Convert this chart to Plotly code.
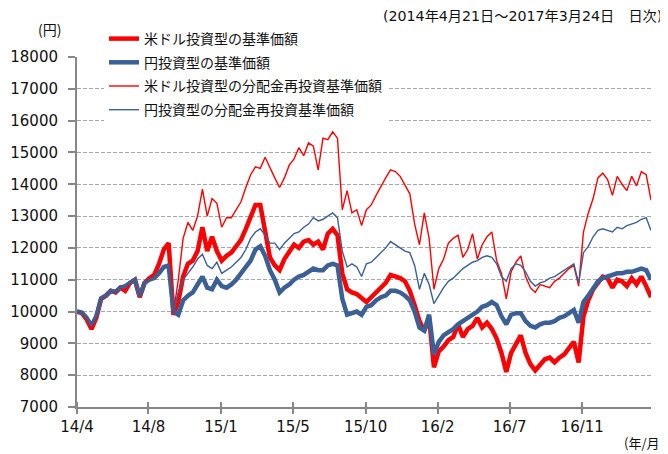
import pandas as pd
import plotly.graph_objects as go

# ---- data ----
start_date = "2014-04-21"
end_date = "2017-03-24"

usd_base = [10000, 9950, 9750, 9450, 9800, 10400, 10500, 10650, 10600, 10750,
            10650, 10900, 11000, 10450, 10900, 11050, 11150, 11500, 11950, 12150,
            9900, 10300, 11100, 11500, 11600, 11900, 12650, 11900, 12350, 11900,
            11600, 11750, 11850, 12050, 12250, 12600, 13000, 13350, 13350, 12500,
            11700, 11450, 11300, 11650, 11900, 12100, 12000, 12200, 12250, 12100,
            12200, 11950, 12450, 12600, 12400, 11200, 10700, 10600, 10550, 10400,
            10300, 10450, 10600, 10750, 10900, 11150, 11100, 11050, 10950, 10650,
            10200, 9700, 9400, 9800, 8250, 8750, 8900, 9100, 9200, 9600,
            9200, 9450, 9550, 9800, 9500, 9650, 9450, 9150, 8700, 8100,
            8700, 8950, 9250, 8700, 8350, 8150, 8350, 8500, 8550, 8400,
            8550, 8650, 8850, 9050, 8400, 9850, 10350, 10700, 10900, 11100,
            11050, 10750, 11000, 10950, 10800, 11050, 10850, 11100, 10800, 10450]

jpy_base = [10000, 9970, 9800, 9550, 9850, 10420, 10500, 10650, 10620, 10750,
            10800, 10900, 11000, 10480, 10900, 11000, 11050, 11200, 11400, 11450,
            10000, 9900, 10350, 10500, 10600, 10850, 11100, 10750, 10700, 11000,
            10800, 10750, 10850, 11000, 11200, 11400, 11600, 11950, 12050, 11750,
            11300, 11000, 10600, 10750, 10850, 11000, 11100, 11150, 11250, 11350,
            11300, 11300, 11450, 11500, 11450, 10400, 9900, 9950, 10000, 9900,
            10150, 10200, 10350, 10450, 10500, 10650, 10650, 10600, 10500, 10350,
            10000, 9500, 9400, 9900, 8650, 9050, 9250, 9350, 9450, 9600,
            9700, 9800, 9900, 10000, 10150, 10200, 10300, 10200, 9850, 9600,
            9900, 9950, 9950, 9700, 9550, 9500, 9600, 9650, 9650, 9700,
            9800, 9850, 9950, 10050, 9650, 10300, 10500, 10750, 10950, 11050,
            11100, 11150, 11200, 11200, 11250, 11250, 11300, 11350, 11300, 11000]

usd_reinv = [10000, 9950, 9750, 9450, 9800, 10400, 10500, 10650, 10600, 10750,
             10650, 10900, 11000, 10450, 10900, 11050, 11150, 11500, 11950, 12150,
             9950, 11000, 12300, 12800, 12550, 13000, 13850, 13000, 13550, 13400,
             12650, 12950, 12950, 13200, 13450, 13900, 14300, 14550, 14500, 14850,
             14500, 14200, 13900, 14200, 14600, 14800, 15150, 14900, 15300, 15200,
             14450, 15450, 15400, 15650, 15450, 13200, 13800, 13100, 13200, 12700,
             13200, 13350, 13650, 13950, 14200, 14450, 14400, 14250, 13950, 13700,
             12750, 12100, 13100, 12300, 10700, 11350, 11650, 12150, 12300, 12400,
             11700, 11950, 12450, 11650, 12100, 12350, 12500, 11600, 11200, 10400,
             11250, 11550, 11750, 11100, 10750, 10600, 10850, 10800, 10750, 10950,
             11050, 11200, 11350, 11450, 10800, 12500, 13100, 13550, 14200, 14350,
             14150, 13650, 14250, 14000, 13800, 14250, 13950, 14400, 14300, 13500]

jpy_reinv = [10000, 9970, 9800, 9550, 9850, 10420, 10500, 10650, 10620, 10750,
             10800, 10900, 11000, 10480, 10900, 11000, 11050, 11200, 11400, 11450,
             10000, 10600, 11000, 11200, 11400, 11650, 11800, 11450, 11350, 11550,
             11200, 11300, 11400, 11550, 11700, 11950, 12300, 12500, 12600, 12400,
             12150, 12150, 11950, 12150, 12300, 12450, 12500, 12650, 12750, 12950,
             12850, 12900, 13000, 13100, 12950, 11900, 11400, 11500, 11400, 11100,
             11500, 11550, 11700, 11850, 12000, 12200, 12100, 12000, 11900, 11850,
             11450, 10700, 11200, 10850, 10250, 10500, 10750, 10950, 11050, 11200,
             11350, 11450, 11550, 11600, 11700, 11750, 11700, 11500, 11100, 10950,
             11350, 11500, 11450, 11250, 10950, 10800, 10900, 10950, 11050, 11100,
             11200, 11300, 11400, 11500, 10900, 11850, 12050, 12350, 12550, 12600,
             12550, 12500, 12650, 12600, 12700, 12750, 12800, 12900, 12950, 12550]

names = ["米ドル投資型の基準価額", "円投資型の基準価額",
         "米ドル投資型の分配金再投資基準価額", "円投資型の分配金再投資基準価額"]

tick_dates = ["2014-04-21", "2014-09-01", "2015-01-14", "2015-05-28",
              "2015-10-10", "2016-02-21", "2016-07-04", "2016-11-16"]
tick_labels = ["14/4", "14/8", "15/1", "15/5", "15/10", "16/2", "16/7", "16/11"]

dates = pd.date_range(start_date, end_date, periods=len(usd_base))

RED = "#FF0000"
BLUE = "#3A6096"
AXIS = "#878787"
GRID = "#A6A6A6"
JP = "Noto Sans CJK JP"
NUM = "DejaVu Sans, Noto Sans CJK JP"

fig = go.Figure()
series = [(usd_base, RED, 4.5), (jpy_base, BLUE, 4.5),
          (usd_reinv, RED, 1.4), (jpy_reinv, BLUE, 1.4)]
for k, ((vals, col, w), nm) in enumerate(zip(series, names)):
    fig.add_trace(go.Scatter(x=dates, y=vals, mode="lines", name=nm,
                             legendgroup=f"g{k}",
                             line=dict(color=col, width=w)))

# the page body adds an 8px offset, so the figure is 8px smaller
OFF = 8
W, H = 668 - OFF, 454 - OFF
L, R, T, B = 77 - OFF, 17, 57 - OFF, 47
pw, ph = W - L - R, H - T - B


def px_x(x):
    return (x - OFF - L) / pw


def px_y(y):
    return (H - B - (y - OFF)) / ph


fig.update_layout(
    width=W, height=H,
    margin=dict(l=L, r=R, t=T, b=B, autoexpand=False),
    paper_bgcolor="white", plot_bgcolor="white",
    font=dict(family=NUM, size=15, color="#111111"),
    showlegend=True,
    legend=dict(x=px_x(104), y=px_y(23), xanchor="left", yanchor="top",
                bgcolor="white", borderwidth=0,
                font=dict(family=JP, size=14, color="#111111"),
                itemwidth=30, tracegroupgap=2.5, traceorder="grouped"),
    xaxis=dict(type="date", range=[start_date, end_date],
               tickmode="array", tickvals=tick_dates, ticktext=tick_labels,
               showline=True, linecolor=AXIS, linewidth=2,
               ticks="outside", ticklen=5, tickcolor=AXIS, tickwidth=1.5,
               minor=dict(tickmode="array", tickvals=tick_dates, ticks="inside",
                          ticklen=5, tickcolor=AXIS, tickwidth=1.5, showgrid=False),
               showgrid=False, zeroline=False, ticklabelstandoff=0,
               tickfont=dict(family=NUM, size=15, color="#111111")),
    yaxis=dict(range=[7000, 18000], tickmode="linear", tick0=7000, dtick=1000,
               tickformat="d",
               showline=True, linecolor=AXIS, linewidth=2,
               ticks="outside", ticklen=7, tickcolor=AXIS, tickwidth=1.5,
               showgrid=True, gridcolor=GRID, gridwidth=1, griddash="4px,2px",
               zeroline=False, ticklabelstandoff=7,
               tickfont=dict(family=NUM, size=15, color="#111111")),
)

fig.add_annotation(text="(2014年4月21日～2017年3月24日　日次)", xref="paper", yref="paper",
                   x=px_x(381), y=px_y(16), xanchor="left", yanchor="middle",
                   showarrow=False, font=dict(family=NUM, size=14.2, color="#111111"))
fig.add_annotation(text="(円)", xref="paper", yref="paper",
                   x=px_x(49), y=px_y(29), xanchor="center", yanchor="middle",
                   showarrow=False, font=dict(family=JP, size=14, color="#111111"))
fig.add_annotation(text="(年/月)", xref="paper", yref="paper",
                   x=px_x(622), y=px_y(443), xanchor="left", yanchor="middle",
                   showarrow=False, font=dict(family=JP, size=13, color="#111111"))

fig.write_html("out.html")
